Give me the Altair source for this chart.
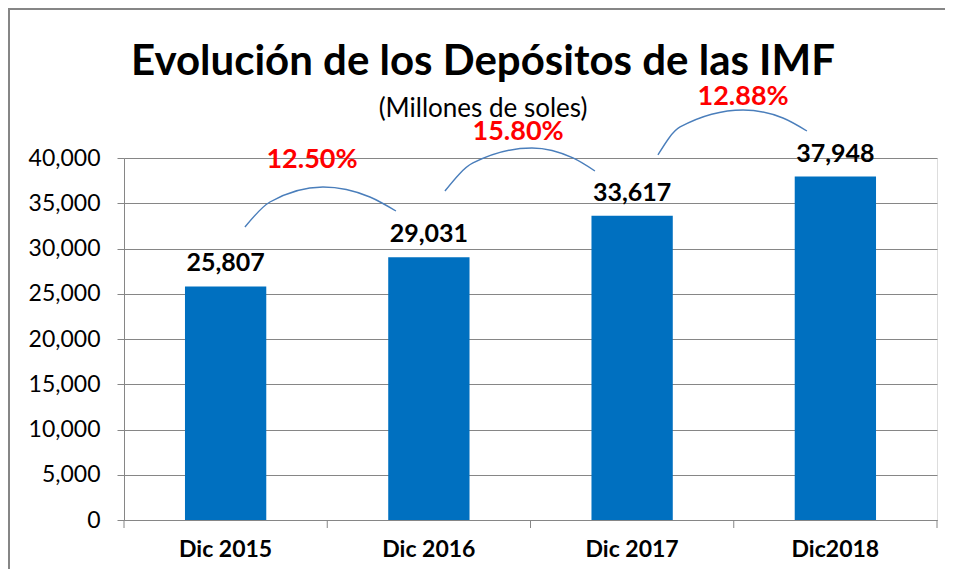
import altair as alt
import pandas as pd

categories = ["Dic 2015", "Dic 2016", "Dic 2017", "Dic2018"]
depositos = [25807, 29031, 33617, 37948]

growth_labels = ["12.50%", "15.80%", "12.88%"]
growth_x = [0.925, 1.939, 3.046]
growth_y = [39780, 42874, 46742]

title_text = ["Evolución de los Depósitos de las IMF"]
subtitle_text = ["(Millones de soles)"]

y_ticks = [0, 5000, 10000, 15000, 20000, 25000, 30000, 35000, 40000]

# category boundaries for the x-axis ticks (category units)
tick_x = [0, 1, 2, 3, 4]

# arc annotations (x in category units, y in value units)
arc_id = [1] * 5 + [2] * 5 + [3] * 5
arc_order = [0, 1, 2, 3, 4] * 3
arc_x = [0.595, 0.718, 0.979, 1.210, 1.338,
         1.579, 1.717, 2.007, 2.209, 2.317,
         2.627, 2.736, 3.046, 3.242, 3.360]
arc_y = [32377, 35139, 36797, 35692, 34145,
         36355, 39449, 41106, 40001, 38565,
         40333, 43427, 45305, 44421, 42985]

bars_df = pd.DataFrame({"cat": categories, "val": depositos})
pct_df = pd.DataFrame({"lab": growth_labels, "x": growth_x, "y": growth_y})
arc_df = pd.DataFrame({"id": arc_id, "o": arc_order, "x": arc_x, "y": arc_y})
tick_df = pd.DataFrame({"x": tick_x})
title_df = pd.DataFrame({"t": title_text})
sub_df = pd.DataFrame({"t": subtitle_text})

FONT = "Lato"
GRAY = "#868686"

yscale = alt.Scale(domain=[0, 40000])
xq = alt.Scale(domain=[0, 4])
xband = alt.Scale(paddingInner=0.6, paddingOuter=0.3)

yaxis = alt.Axis(values=y_ticks, labelExpr="format(datum.value, ',')",
                 labelFont=FONT, labelFontSize=23, labelColor="black",
                 tickSize=7, tickColor=GRAY, domainColor=GRAY,
                 gridColor=GRAY, labelPadding=17, title=None)

bars = alt.Chart(bars_df).mark_bar(color="#0070C0").encode(
    x=alt.X("cat:N", sort=categories, title=None, scale=xband,
            axis=alt.Axis(labelAngle=0, labelFont=FONT, labelFontSize=23,
                          labelFontWeight="bold", labelColor="black",
                          ticks=False, domainColor=GRAY, labelPadding=18,
                          grid=False)),
    y=alt.Y("val:Q", scale=yscale, title=None, axis=yaxis),
)

vals = alt.Chart(bars_df).mark_text(font=FONT, fontSize=25, fontWeight="bold",
                                    color="black", dy=-15, baseline="alphabetic").encode(
    x=alt.X("cat:N", sort=categories, scale=xband, axis=None),
    y=alt.Y("val:Q", scale=yscale, title=None, axis=yaxis),
    text=alt.Text("val:Q", format=","),
)

xticks = alt.Chart(tick_df).mark_rule(color=GRAY, strokeWidth=1).encode(
    x=alt.X("x:Q", scale=xq, axis=None),
    y=alt.value(362), y2=alt.value(370),
)

arcs = alt.Chart(arc_df).mark_line(color="#4A7EBB", strokeWidth=1.4,
                                   interpolate="monotone").encode(
    x=alt.X("x:Q", scale=xq, axis=None),
    y=alt.Y("y:Q", scale=yscale, title=None, axis=yaxis),
    detail="id:N",
    order="o:Q",
)

pcts = alt.Chart(pct_df).mark_text(font=FONT, fontSize=27, fontWeight="bold",
                                   color="#FF0000", baseline="middle").encode(
    x=alt.X("x:Q", scale=xq, axis=None),
    y=alt.Y("y:Q", scale=yscale, title=None, axis=yaxis),
    text="lab:N",
)

title = alt.Chart(title_df).mark_text(font=FONT, fontSize=42, fontWeight="bold",
                                      color="black", baseline="alphabetic").encode(
    x=alt.value(359), y=alt.value(-83), text="t:N",
)

subtitle = alt.Chart(sub_df).mark_text(font=FONT, fontSize=26, color="black",
                                       baseline="alphabetic").encode(
    x=alt.value(359), y=alt.value(-41), text="t:N",
)

border = alt.Chart(bars_df).mark_rect(fill=None, stroke=GRAY, strokeWidth=2).encode(
    x=alt.value(-115), x2=alt.value(840), y=alt.value(-149), y2=alt.value(430)
)

chart = alt.layer(bars, vals, xticks, arcs, pcts, title, subtitle, border).resolve_scale(
    x="independent"
).properties(
    width=813, height=362,
    padding={"left": 116, "top": 150, "right": 8, "bottom": 49},
    autosize=alt.AutoSizeParams(type="none"),
).configure_view(stroke=None).configure(background="white")

chart.save("out.html", embed_options={"renderer": "svg", "actions": False})
